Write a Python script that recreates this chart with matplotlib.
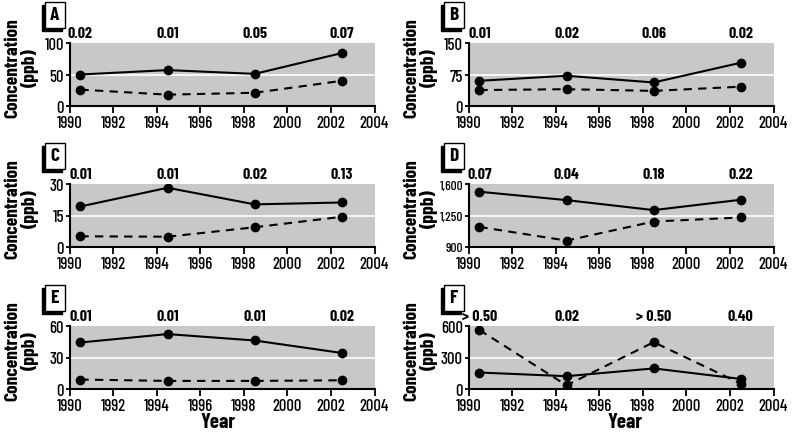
import matplotlib
matplotlib.use("Agg")
import matplotlib.pyplot as plt
from matplotlib.patches import Rectangle
import matplotlib.transforms as mtransforms

plt.rcParams['font.family'] = ['Barlow Condensed', 'DejaVu Sans']
plt.rcParams['font.stretch'] = 'condensed'

# data
years = [1990.5, 1994.5, 1998.5, 2002.5]
panel_names = ['A', 'B', 'C', 'D', 'E', 'F']

solid_A = [50, 57, 51, 84]
dashed_A = [26, 18, 21, 40]
solid_B = [60, 72, 56, 103]
dashed_B = [38, 40, 36, 46]
solid_C = [19.3, 28.2, 20.3, 21.2]
dashed_C = [5.1, 4.9, 9.4, 14.4]
solid_D = [1514, 1421, 1310, 1425]
dashed_D = [1123, 971, 1183, 1228]
solid_E = [44.3, 52.3, 46.2, 34.3]
dashed_E = [9.0, 7.7, 7.7, 8.3]
solid_F = [157, 122, 196, 96]
dashed_F = [562, 35, 446, 51]

pvals_A = ['0.02', '0.01', '0.05', '0.07']
pvals_B = ['0.01', '0.02', '0.06', '0.02']
pvals_C = ['0.01', '0.01', '0.02', '0.13']
pvals_D = ['0.07', '0.04', '0.18', '0.22']
pvals_E = ['0.01', '0.01', '0.01', '0.02']
pvals_F = ['> 0.50', '0.02', '> 0.50', '0.40']

yticks_A = [0, 50, 100]
yticks_B = [0, 75, 150]
yticks_C = [0, 15, 30]
yticks_D = [900, 1250, 1600]
yticks_E = [0, 30, 60]
yticks_F = [0, 300, 600]

xticks = [1990, 1992, 1994, 1996, 1998, 2000, 2002, 2004]

panels = [
    (solid_A, dashed_A, pvals_A, yticks_A),
    (solid_B, dashed_B, pvals_B, yticks_B),
    (solid_C, dashed_C, pvals_C, yticks_C),
    (solid_D, dashed_D, pvals_D, yticks_D),
    (solid_E, dashed_E, pvals_E, yticks_E),
    (solid_F, dashed_F, pvals_F, yticks_F),
]

W, H = 792, 439
fig = plt.figure(figsize=(W / 100, H / 100), dpi=100)

lefts = [69.5, 468.5]
tops = [44, 185, 327]
ax_w = 305
ax_h = 63

for i, (solid, dashed, pvals, yt) in enumerate(panels):
    row, col = i // 2, i % 2
    left = lefts[col]
    top = tops[row]
    ax = fig.add_axes([left / W, 1 - (top + ax_h) / H, ax_w / W, ax_h / H])
    ax.set_facecolor('#c8c8c8')
    ax.axhline(yt[1], color='white', lw=1.2, zorder=1)
    ax.plot(years, solid, '-o', color='black', lw=1.5, ms=6, zorder=3)
    ax.plot(years, dashed, '--o', color='black', lw=1.5, ms=6,
            dashes=(4, 3), zorder=3)
    ax.set_xlim(1990, 2004)
    ax.set_ylim(yt[0], yt[-1])
    ax.set_xticks(xticks)
    ax.set_yticks(yt)
    ysize = 12
    if yt[-1] >= 1000:
        ax.set_yticklabels(['{:,}'.format(v) for v in yt])
        ysize = 9.5
    for s in ['top', 'right']:
        ax.spines[s].set_visible(False)
    for s in ['left', 'bottom']:
        ax.spines[s].set_linewidth(1.5)
    ax.tick_params(axis='x', length=5, width=1.3, labelsize=12, pad=1.5)
    ax.tick_params(axis='y', length=3, width=1.3, labelsize=ysize, pad=1)
    for lab in ax.get_xticklabels() + ax.get_yticklabels():
        lab.set_fontweight(500)

    trans = mtransforms.blended_transform_factory(ax.transData, ax.transAxes)
    for x, p in zip(years, pvals):
        ax.text(x, 1.05, p, transform=trans, ha='center', va='bottom',
                fontsize=11.5, fontweight='bold')

    # y label
    fig.text((left - 48) / W, 1 - (top + 24) / H, 'Concentration\n(ppb)',
             rotation=90, ha='center', va='center', fontsize=14,
             fontweight='bold', linespacing=1.0)

    # panel letter box with shadow
    bx, by, bw, bh = left - 25, top - 41, 20, 26
    fig.patches.append(Rectangle(((bx - 2.5) / W, 1 - (by + bh + 2.5) / H), bw / W, bh / H,
                                 transform=fig.transFigure, facecolor='black',
                                 edgecolor='black', lw=1, zorder=1))
    fig.patches.append(Rectangle((bx / W, 1 - (by + bh) / H), bw / W, bh / H,
                                 transform=fig.transFigure, facecolor='white',
                                 edgecolor='black', lw=1, zorder=2))
    fig.text((bx + bw / 2) / W, 1 - (by + bh / 2) / H, panel_names[i],
             ha='center', va='center', fontsize=14, fontweight='bold', zorder=3)

fig.text(218 / W, 1 - 428 / H, 'Year', ha='center', va='baseline',
         fontsize=15, fontweight='bold')
fig.text(625 / W, 1 - 428 / H, 'Year', ha='center', va='baseline',
         fontsize=15, fontweight='bold')

fig.savefig('out.png', dpi=100)
